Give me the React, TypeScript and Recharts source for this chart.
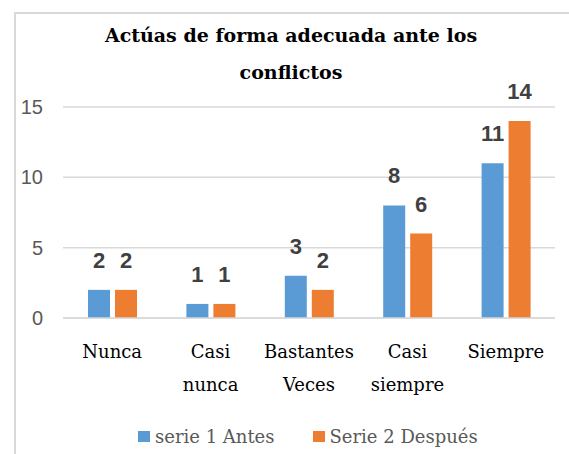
import React from "react";
import { BarChart, Bar, XAxis, YAxis, CartesianGrid, LabelList } from "recharts";

const categories = ["Nunca", "Casi nunca", "Bastantes Veces", "Casi siempre", "Siempre"];
const antes = [2, 1, 3, 8, 11];
const despues = [2, 1, 2, 6, 14];
const yTicks = [0, 5, 10, 15];

const data = categories.map((name, i) => ({
  name,
  antes: antes[i],
  despues: despues[i],
}));

const serif = "'DejaVu Serif', serif";
const sans = "'Liberation Sans', Arial, sans-serif";

const CategoryTick = (props: any) => {
  const { x, y, payload } = props;
  const words = String(payload.value).split(" ");
  return (
    <text x={x} y={y} textAnchor="middle" fontFamily={serif} fontSize={18} fill="#000">
      {words.map((w, i) => (
        <tspan key={i} x={x} dy={i === 0 ? 40 : 33}>
          {w}
        </tspan>
      ))}
    </text>
  );
};

const App = () => {
  return (
    <div style={{ position: "absolute", left: 0, top: 0, width: 569, height: 454, overflow: "hidden", background: "#fff" }}>
      <div
        style={{
          position: "absolute",
          left: 14,
          top: 12,
          width: 600,
          height: 500,
          border: "2px solid #d9d9d9",
        }}
      />
      <div
        style={{
          position: "absolute",
          left: 41,
          top: 17,
          width: 500,
          textAlign: "center",
          fontFamily: serif,
          fontWeight: 700,
          fontSize: 19,
          lineHeight: "37px",
          color: "#000",
        }}
      >
        Actúas de forma adecuada ante los
        <br />
        conflictos
      </div>
      <div style={{ position: "absolute", left: 0, top: 0 }}>
        <BarChart
          width={569}
          height={454}
          data={data}
          margin={{ top: 107, right: 14, left: 0, bottom: 106 }}
          barCategoryGap="25%"
          barGap={5}
        >
          <CartesianGrid vertical={false} stroke="#d9d9d9" strokeWidth={1.5} />
          <XAxis
            dataKey="name"
            height={30}
            axisLine={{ stroke: "#d9d9d9", strokeWidth: 1.5 }}
            tickLine={false}
            tickSize={0}
            tickMargin={0}
            interval={0}
            tick={<CategoryTick />}
          />
          <YAxis
            width={63}
            domain={[0, 15]}
            ticks={yTicks}
            axisLine={false}
            tickLine={false}
            tickSize={0}
            tickMargin={20}
            tick={{ fontFamily: sans, fontSize: 20, fill: "#595959" }}
          />
          <Bar dataKey="antes" fill="#5B9BD5" barSize={22} isAnimationActive={false}>
            <LabelList
              dataKey="antes"
              position="top"
              offset={22}
              style={{ fontFamily: sans, fontSize: 22, fontWeight: 700, fill: "#404040" }}
            />
          </Bar>
          <Bar dataKey="despues" fill="#ED7D31" barSize={22} isAnimationActive={false}>
            <LabelList
              dataKey="despues"
              position="top"
              offset={22}
              style={{ fontFamily: sans, fontSize: 22, fontWeight: 700, fill: "#404040" }}
            />
          </Bar>
        </BarChart>
      </div>
      <div
        style={{
          position: "absolute",
          left: 138,
          top: 426,
          display: "flex",
          alignItems: "center",
          gap: 38,
          fontFamily: serif,
          fontSize: 18,
          color: "#595959",
          whiteSpace: "nowrap",
        }}
      >
        <span style={{ display: "flex", alignItems: "center" }}>
          <span style={{ width: 12, height: 11, background: "#5B9BD5", marginRight: 5 }} />
          serie 1 Antes
        </span>
        <span style={{ display: "flex", alignItems: "center" }}>
          <span style={{ width: 12, height: 11, background: "#ED7D31", marginRight: 5 }} />
          Serie 2 Después
        </span>
      </div>
    </div>
  );
};

export default App;
